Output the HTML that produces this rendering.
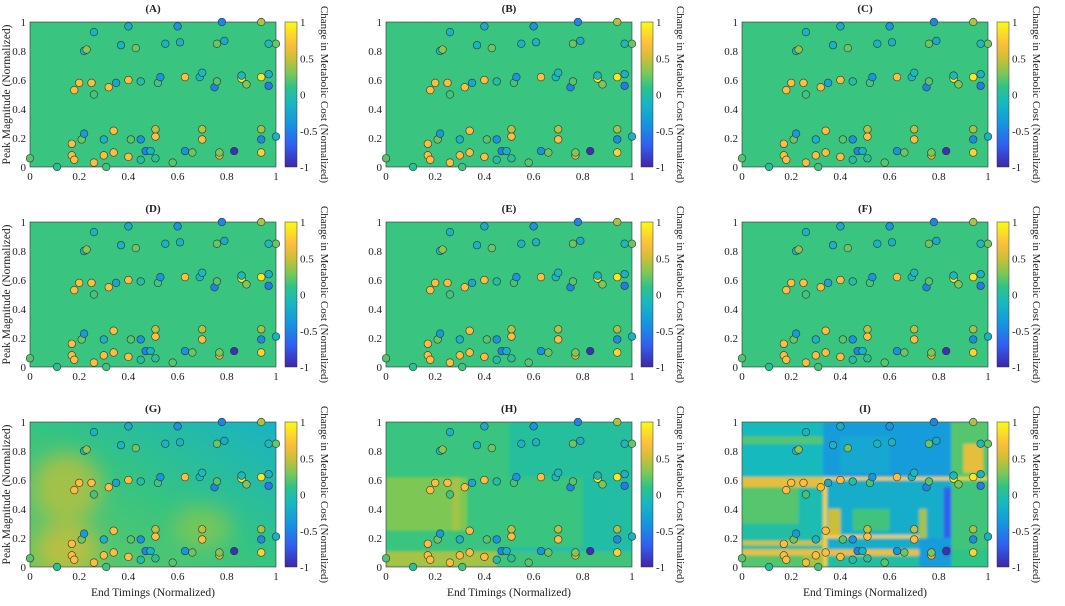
<!DOCTYPE html>
<html><head><meta charset="utf-8"><style>
body{margin:0;background:#fff;width:1065px;height:601px;overflow:hidden}
svg text{font-family:"Liberation Serif",serif;fill:#222}
</style></head><body>
<svg id="fig" width="1065" height="601" xmlns="http://www.w3.org/2000/svg">
<defs>
<filter id="blur" x="-50%" y="-50%" width="200%" height="200%"><feGaussianBlur stdDeviation="10"/></filter>
<filter id="blur2"><feGaussianBlur stdDeviation="1.2"/></filter>
</defs>
</svg>
<script>
// Scatter data: x (end timing), y (peak magnitude), value (change in metabolic cost)
const ptX=[0,0.11,0.17,0.17,0.18,0.18,0.2,0.21,0.22,0.23,0.22,0.25,0.26,0.26,0.26,0.3,0.3,0.31,0.32,0.34,0.34,0.35,0.37,0.4,0.4,0.4,0.41,0.43,0.45,0.45,0.45,0.47,0.49,0.51,0.51,0.51,0.52,0.53,0.55,0.58,0.6,0.61,0.63,0.63,0.66,0.69,0.7,0.7,0.7,0.75,0.76,0.76,0.77,0.77,0.78,0.79,0.83,0.86,0.86,0.86,0.88,0.94,0.94,0.94,0.94,0.94,0.97,0.97,0.97,1,1];
const ptY=[0.06,0,0.16,0.08,0.05,0.53,0.58,0.19,0.8,0.81,0.23,0.58,0.93,0.5,0.03,0.19,0.08,0,0.55,0.25,0.1,0.58,0.84,0.97,0.6,0.07,0.19,0.82,0.59,0.19,0.05,0.11,0.11,0.06,0.21,0.26,0.58,0.62,0.85,0.03,0.97,0.86,0.62,0.11,0.1,0.62,0.65,0.26,0.19,0.55,0.59,0.85,0.08,0.1,1,0.87,0.11,0.63,0.61,0.63,0.57,1,0.62,0.26,0.19,0.1,0.85,0.64,0.56,0.85,0.21];
const ptV=[0.2,0.05,0.7,0.7,0.7,0.7,0.7,0.25,-0.1,0.35,-0.35,0.7,-0.15,0.15,0.7,-0.15,0.7,0.15,0.7,0.7,0.7,-0.25,-0.15,-0.2,0.7,0.7,0.2,0.25,0,-0.4,0,-0.5,-0.15,0.05,0.7,0.45,0.15,-0.4,-0.15,0.2,-0.4,-0.15,0.7,-0.4,0.25,-0.1,-0.1,0.45,0.7,-0.5,0.2,0.25,0.55,0.3,-0.5,-0.2,-0.95,-0.5,0.95,-0.1,0.3,0.4,0.9,0.4,-0.45,0.8,-0.1,-0.15,-0.55,0.25,-0.15];
const xTicks=[0,0.2,0.4,0.6,0.8,1];
const yTicks=[0,0.2,0.4,0.6,0.8,1];
const cTicks=[1,0.5,0,-0.5,-1];
const titles=["(A)","(B)","(C)","(D)","(E)","(F)","(G)","(H)","(I)"];
const bgVal=0.13;
// Panel H regions [x0,x1,y0,y1,value]
const hRegions=[[0.5,1,0.62,1,0.02],[0.8,1,0.12,0.62,0.0],[0,0.33,0.25,0.62,0.3],[0.27,0.3,0.25,0.62,0.4],[0,0.45,0,0.11,0.4],[0.45,1,0.11,0.13,-0.1],[0.45,1,0,0.11,0.15]];
// Panel I regions
const iRegions=[[0,1,0,1,0],[0,0.33,0.62,1,-0.1],[0,0.33,0.85,0.9,0.2],[0.33,0.85,0.62,1,-0.35],[0.4,0.6,0.65,0.9,-0.25],[0.85,1,0.62,1,0.2],[0.9,0.98,0.65,0.85,0.6],[0,0.33,0.55,0.62,0.6],[0,0.23,0.3,0.55,0.2],[0.23,0.33,0.2,0.55,-0.05],[0.33,0.85,0.12,0.6,-0.2],[0.45,0.6,0.25,0.4,0.15],[0.35,0.4,0.2,0.4,0.5],[0.72,0.75,0.2,0.4,0.4],[0.85,1,0.12,0.6,0.15],[0.82,0.85,0.15,0.55,-0.7],[0.33,1,0.6,0.62,0.8],[0,0.72,0.08,0.12,0.65],[0,0.33,0.15,0.18,0.55],[0.33,0.72,0.2,0.22,0.8],[0.33,0.345,0,0.62,0.8],[0,0.25,0,0.08,0.2],[0.25,0.33,0,0.08,0.4],[0.72,0.85,0,0.2,-0.35],[0.82,0.85,0.08,0.14,-0.8],[0.85,1,0,0.12,0.1]];
// Panel G blobs [cx,cy,rx,ry,value]
const gBlobs=[[0.15,0.55,0.14,0.24,0.45],[0.15,0.12,0.13,0.18,0.5],[0.7,0.27,0.12,0.15,0.32]];

const stops=[[0,[62,38,168]],[0.15,[50,95,240]],[0.3,[20,150,225]],[0.45,[25,185,190]],[0.55,[45,195,135]],[0.65,[125,200,85]],[0.75,[205,190,55]],[0.85,[252,190,60]],[1,[249,251,20]]];
function cmap(v){let t=(v+1)/2;t=Math.max(0,Math.min(1,t));for(let i=1;i<stops.length;i++){if(t<=stops[i][0]){const a=stops[i-1],b=stops[i];const f=(t-a[0])/(b[0]-a[0]);const c=a[1].map((x,k)=>Math.round(x+(b[1][k]-x)*f));return `rgb(${c})`;}}return 'rgb(249,251,20)';}
const NS="http://www.w3.org/2000/svg";const svg=document.getElementById('fig');
function el(tag,attrs,parent){const e=document.createElementNS(NS,tag);for(const k in attrs)e.setAttribute(k,attrs[k]);(parent||svg).appendChild(e);return e;}
const colX=[30,386,742],rowY=[22,222,422],W=246,H=145;
for(let p=0;p<9;p++){
  const x0=colX[p%3],y0=rowY[Math.floor(p/3)];
  const sx=v=>x0+v*W, sy=v=>y0+H-v*H;
  const g=el('g',{});
  
  
  const clipId='c'+p;const cp=el('clipPath',{id:clipId},g);el('rect',{x:x0,y:y0,width:W,height:H},cp);
  const bg=el('g',{'clip-path':`url(#${clipId})`},g);
  const base=el('rect',{x:x0,y:y0,width:W,height:H,fill:cmap(bgVal)},bg);
  
  
  if(p===6){
    const lg=el('linearGradient',{id:'lg6',x1:0,y1:1,x2:1,y2:0},svg.querySelector('defs'));
    el('stop',{offset:0,'stop-color':cmap(0.25)},lg);el('stop',{offset:0.5,'stop-color':cmap(0.12)},lg);el('stop',{offset:1,'stop-color':cmap(-0.15)},lg);
    base.setAttribute('fill','url(#lg6)');
    const bl=el('g',{filter:'url(#blur)'},bg);
    gBlobs.forEach(b=>{const e=el('ellipse',{cx:sx(b[0]),cy:sy(b[1]),rx:b[2]*W,ry:b[3]*H,fill:cmap(b[4]),opacity:0.8},bl);
      
      });
  }
  if(p===7||p===8){
    const regs=p===7?hRegions:iRegions;const rg=el('g',{filter:'url(#blur2)'},bg);
    regs.forEach(r=>{const e=el('rect',{x:sx(r[0]),y:sy(r[3]),width:(r[1]-r[0])*W,height:(r[3]-r[2])*H,fill:cmap(r[4])},rg);
      
      });
  }
  el('rect',{x:x0,y:y0,width:W,height:H,fill:'none',stroke:'#333','stroke-width':0.6},g);
  ptX.forEach((vx,i)=>{const c=el('circle',{cx:sx(vx),cy:sy(ptY[i]),r:3.8,fill:cmap(ptV[i]),stroke:'#333','stroke-width':0.6},g);
    
    });
  xTicks.forEach(t=>{const tx=el('text',{x:sx(t),y:y0+H+13,'font-size':11,'text-anchor':'middle'},g);tx.textContent=t;
    
    });
  yTicks.forEach(t=>{const tx=el('text',{x:x0-4,y:sy(t)+4,'font-size':11,'text-anchor':'end'},g);tx.textContent=t;
    
    });
  const tt=el('text',{x:x0+W/2,y:y0-10,'font-size':11,'font-weight':'bold','text-anchor':'middle'},g);tt.textContent=titles[p];
  
  
  const cbx=x0+255;const gid='cb'+p;const cg=el('linearGradient',{id:gid,x1:0,y1:1,x2:0,y2:0},svg.querySelector('defs'));
  for(let k=0;k<=20;k++)el('stop',{offset:k/20,'stop-color':cmap(-1+k/10)},cg);
  const cb=el('rect',{x:cbx,y:y0,width:12,height:H,fill:`url(#${gid})`,stroke:'#333','stroke-width':0.5},g);
  
  
  cTicks.forEach(t=>{const tx=el('text',{x:cbx+15,y:y0+H-(t+1)/2*H+4,'font-size':11},g);tx.textContent=t;
    
    });
  const ct=el('text',{x:0,y:0,'font-size':11,'text-anchor':'middle',transform:`translate(${cbx+36},${y0+H/2}) rotate(90)`},g);ct.textContent='Change in Metabolic Cost (Normalized)';
  
  
  if(p%3===0){const yl=el('text',{x:0,y:0,'font-size':11.5,'text-anchor':'middle',transform:`translate(10,${y0+H/2}) rotate(-90)`},g);yl.textContent='Peak Magnitude (Normalized)';
    
    }
  if(p>=6){const xl=el('text',{x:x0+W/2,y:596,'font-size':11.5,'text-anchor':'middle'},g);xl.textContent='End Timings (Normalized)';
    
    }
}
</script>
</body></html>
